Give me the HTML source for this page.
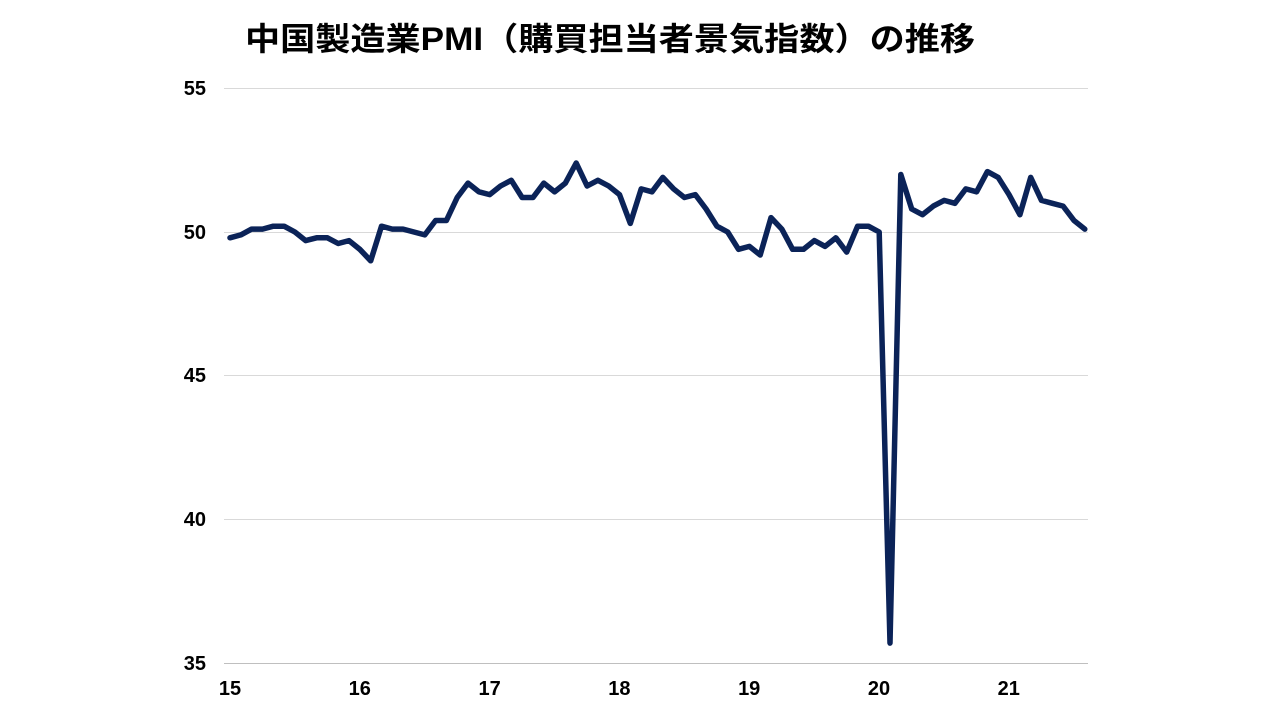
<!DOCTYPE html>
<html><head><meta charset="utf-8"><style>
html,body{margin:0;padding:0;background:#fff;width:1280px;height:720px;overflow:hidden}
svg{display:block}
text{font-family:"Liberation Sans","Noto Sans CJK JP",sans-serif;font-weight:bold;fill:#000}
</style></head><body>
<svg id="s" width="1280" height="720" xmlns="http://www.w3.org/2000/svg">
<text x="245" y="50" font-size="32" textLength="730" lengthAdjust="spacingAndGlyphs">中国製造業PMI（購買担当者景気指数）の推移</text>
<g stroke="#d9d9d9" stroke-width="1">
<line x1="224" y1="88.5" x2="1088" y2="88.5"/>
<line x1="224" y1="232.5" x2="1088" y2="232.5"/>
<line x1="224" y1="375.5" x2="1088" y2="375.5"/>
<line x1="224" y1="519.5" x2="1088" y2="519.5"/>
</g>
<line x1="224" y1="663.5" x2="1088" y2="663.5" stroke="#bfbfbf" stroke-width="1"/>
<g font-size="20" text-anchor="end">
<text x="206" y="95">55</text><text x="206" y="239">50</text><text x="206" y="382">45</text><text x="206" y="526">40</text><text x="206" y="670">35</text>
</g>
<g font-size="20" text-anchor="middle" id="xl"></g>
<polyline id="p" fill="none" stroke="#0b2358" stroke-width="5.5" stroke-linejoin="round" stroke-linecap="round"/>
</svg>
<script>
var d=[49.8,49.9,50.1,50.1,50.2,50.2,50.0,49.7,49.8,49.8,49.6,49.7,
49.4,49.0,50.2,50.1,50.1,50.0,49.9,50.4,50.4,51.2,51.7,51.4,
51.3,51.6,51.8,51.2,51.2,51.7,51.4,51.7,52.4,51.6,51.8,51.6,
51.3,50.3,51.5,51.4,51.9,51.5,51.2,51.3,50.8,50.2,50.0,49.4,
49.5,49.2,50.5,50.1,49.4,49.4,49.7,49.5,49.8,49.3,50.2,50.2,
50.0,35.7,52.0,50.8,50.6,50.9,51.1,51.0,51.5,51.4,52.1,51.9,
51.3,50.6,51.9,51.1,51.0,50.9,50.4,50.1];
var pts=d.map(function(v,i){return (230+i*10.82).toFixed(1)+","+(232-(v-50)*28.75).toFixed(1)}).join(" ");
document.getElementById("p").setAttribute("points",pts);
var g=document.getElementById("xl"),ns="http://www.w3.org/2000/svg";
["15","16","17","18","19","20","21"].forEach(function(t,k){
var e=document.createElementNS(ns,"text");e.setAttribute("x",230+k*129.8);e.setAttribute("y",695);e.textContent=t;g.appendChild(e);});
</script>
</body></html>
